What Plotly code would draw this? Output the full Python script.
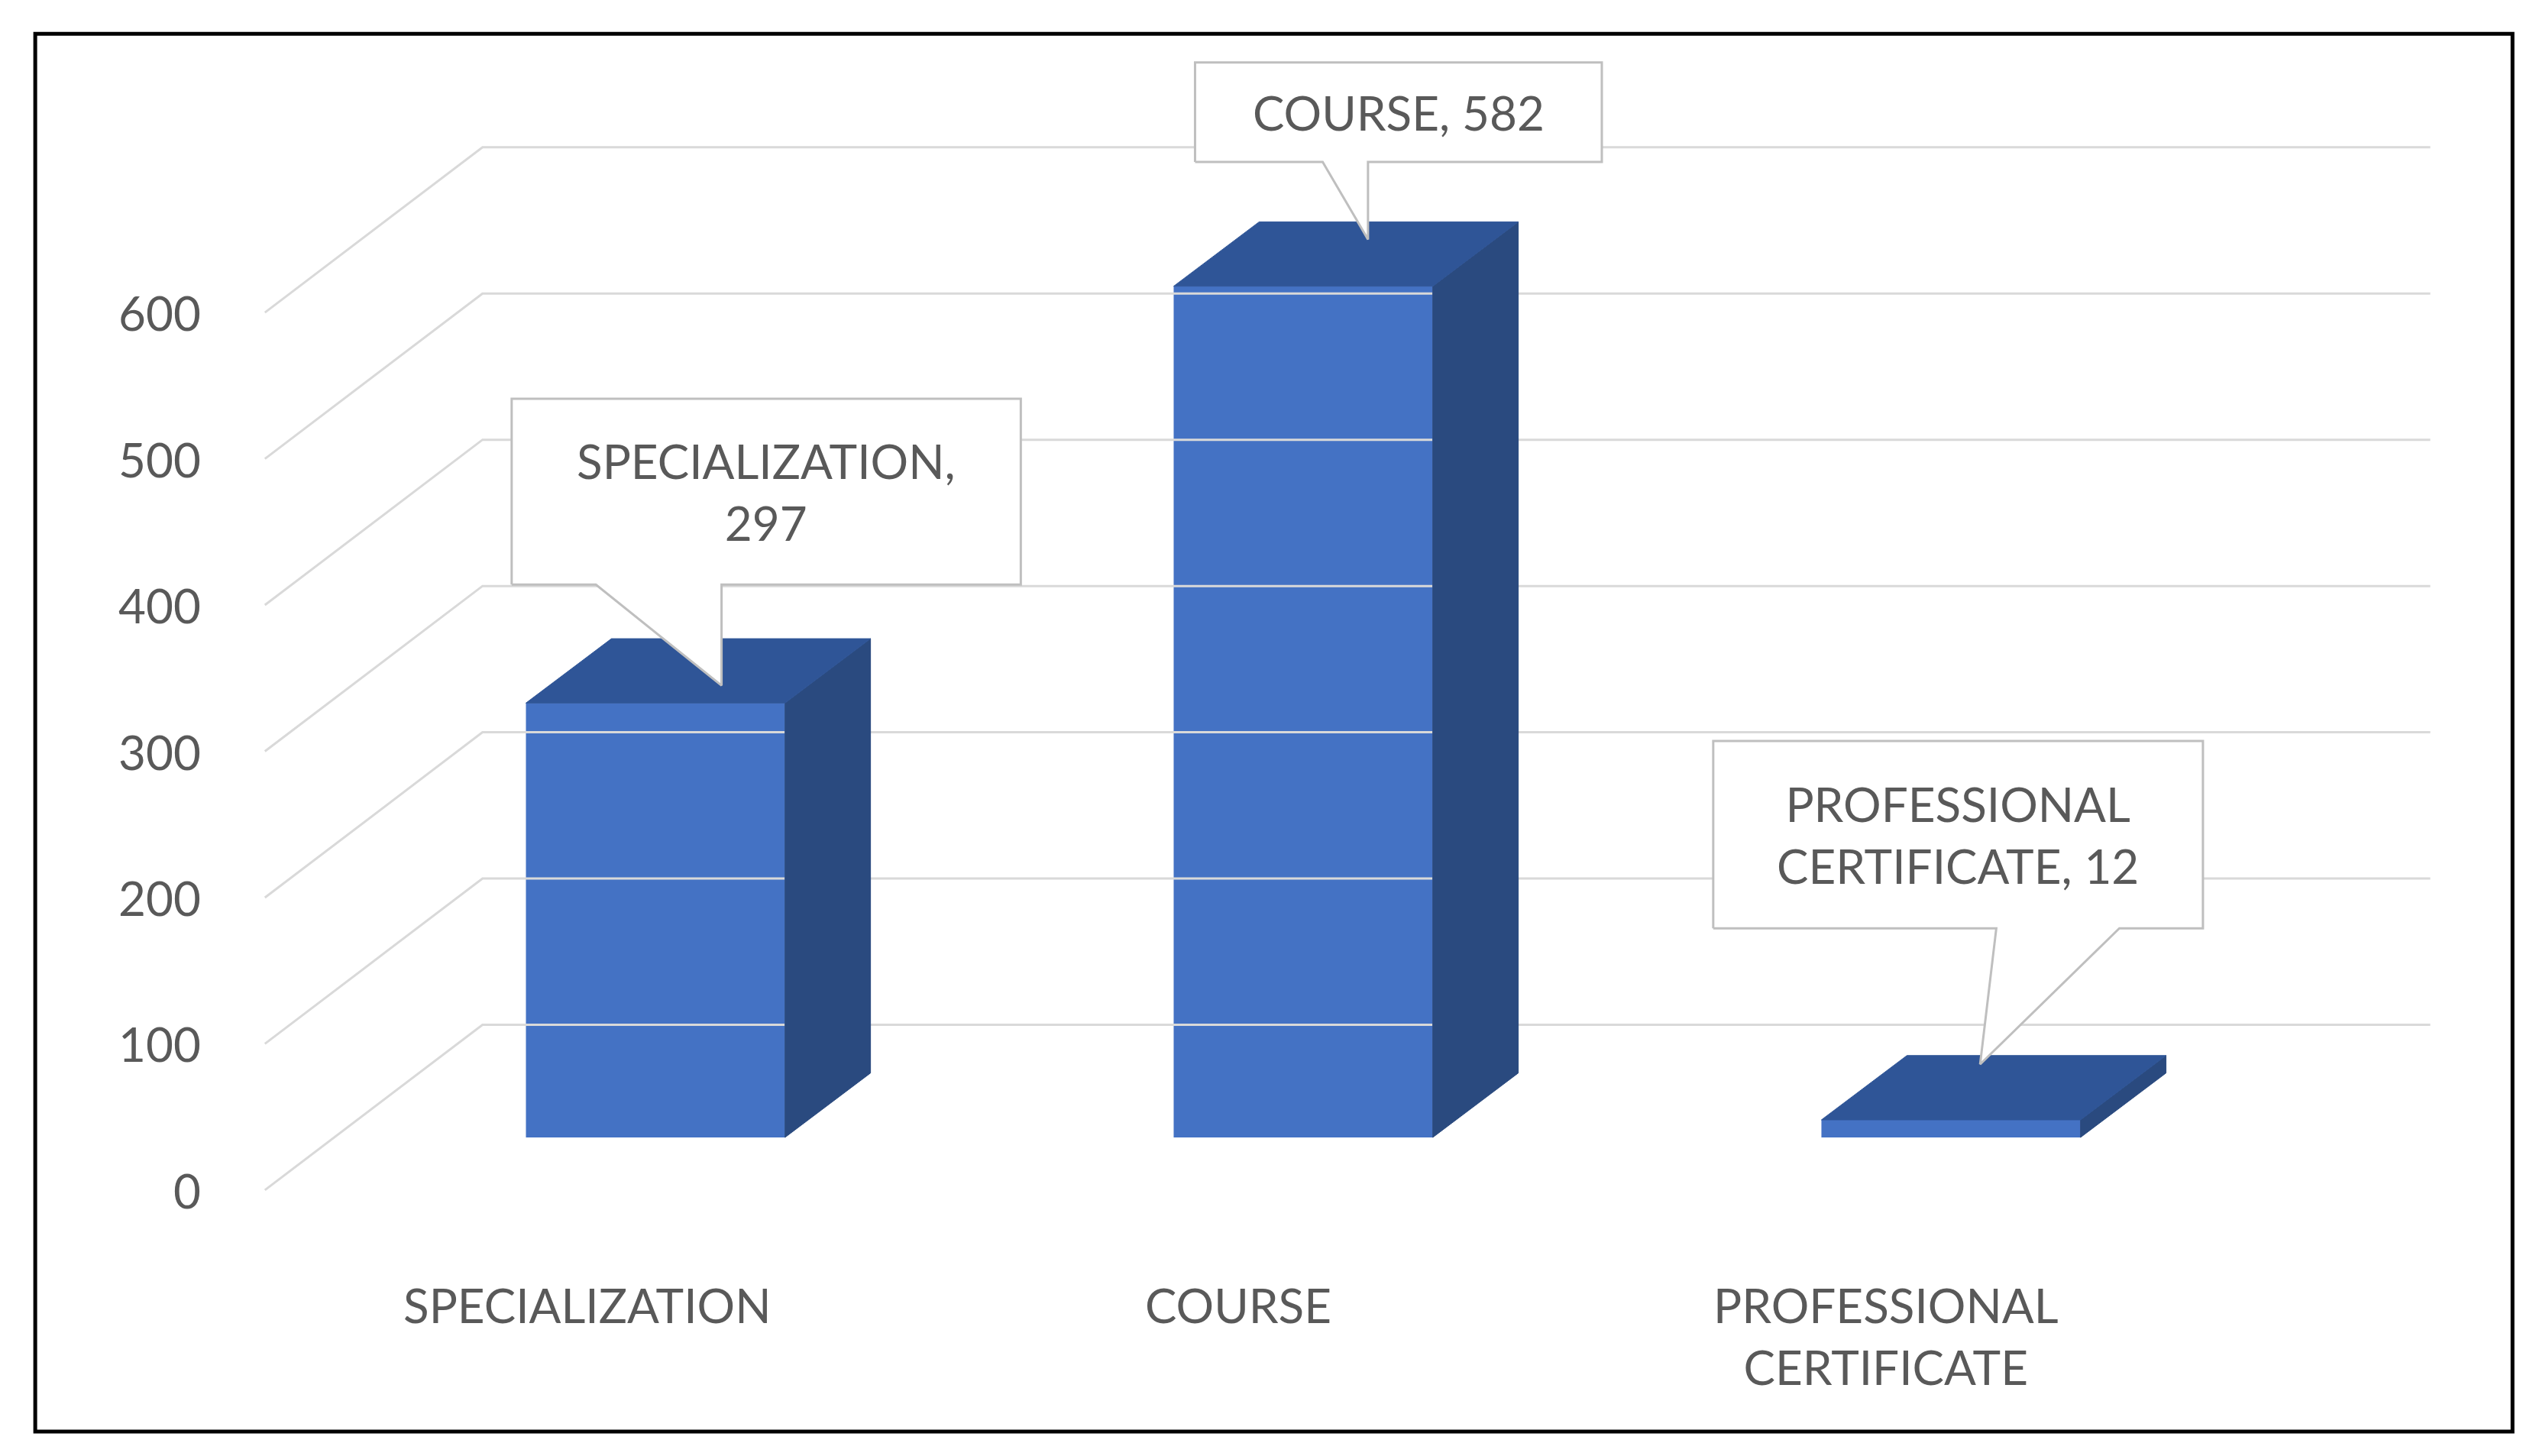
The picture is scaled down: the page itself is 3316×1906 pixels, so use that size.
import plotly.graph_objects as go

categories = ["SPECIALIZATION", "COURSE", "PROFESSIONAL CERTIFICATE"]
cat_labels = ["SPECIALIZATION", "COURSE", "PROFESSIONAL<br>CERTIFICATE"]
values = [297, 582, 12]
tick_values = [0, 100, 200, 300, 400, 500, 600]

FRONT = "#4472C4"; TOP = "#2F5597"; SIDE = "#2A4A7F"
GRID = "#D9D9D9"; TXT = "#595959"; FONT = "Lato"
hw, dx, dy = 0.2, 0.132, 44
back_off, front_off = 77, -36
xb0, xb1, xf = -0.267, 2.74, -0.603

fig = go.Figure()
# walls / gridlines
for v in tick_values:
    fig.add_trace(go.Scatter(x=[xf, xb0, xb1], y=[v + front_off, v + back_off, v + back_off],
                             mode="lines", line=dict(color=GRID, width=3), hoverinfo="skip"))
    fig.add_annotation(x=-0.70, y=v + front_off, text=str(v), showarrow=False, xanchor="right",
                       font=dict(size=62, color=TXT, family=FONT))
xs = list(range(len(values)))
fig.add_trace(go.Bar(x=xs, y=values, width=2 * hw, marker=dict(color=FRONT, line=dict(width=0)),
                     hoverinfo="skip"))
for x, v in zip(xs, values):
    fig.add_trace(go.Scatter(x=[x + hw, x + hw + dx, x + hw + dx, x + hw, x + hw],
                             y=[0, dy, v + dy, v, 0], fill="toself", fillcolor=SIDE,
                             mode="lines", line=dict(color=SIDE, width=1), hoverinfo="skip"))
    fig.add_trace(go.Scatter(x=[x - hw, x + hw, x + hw + dx, x - hw + dx, x - hw],
                             y=[v, v, v + dy, v + dy, v], fill="toself", fillcolor=TOP,
                             mode="lines", line=dict(color=TOP, width=1), hoverinfo="skip"))

for x, t in zip([-0.105, 0.9, 1.9], cat_labels):
    fig.add_annotation(x=x, y=-94, yanchor="top", text=t, showarrow=False,
                       font=dict(size=62, color=TXT, family=FONT), align="center")

# callouts: box (x0,x1,y0,y1), pointer (xa, tipx, tipy, xb)
callouts = [
    ((-0.222, 0.564, 378, 505), (-0.092, 0.102, 309, 0.102), f"{categories[0]},<br>{values[0]}"),
    ((0.833, 1.461, 667, 735), (1.03, 1.10, 614, 1.10), f"{categories[1]}, {values[1]}"),
    ((1.633, 2.389, 143, 271), (2.07, 2.045, 50, 2.26), "PROFESSIONAL<br>CERTIFICATE, " + str(values[2])),
]
for (x0, x1, y0, y1), (xa, tx, ty, xb), t in callouts:
    fig.add_trace(go.Scatter(x=[x0, xa, tx, xb, x1, x1, x0, x0], y=[y0, y0, ty, y0, y0, y1, y1, y0],
                             fill="toself", fillcolor="white", mode="lines",
                             line=dict(color="#BFBFBF", width=3), hoverinfo="skip"))
    fig.add_annotation(x=(x0 + x1) / 2, y=(y0 + y1) / 2, text=t, showarrow=False,
                       font=dict(size=62, color=TXT, family=FONT), align="center")

fig.add_shape(type="rect", xref="paper", yref="paper", x0=0.0115, x1=0.9895, y0=0.021, y1=0.981,
              line=dict(color="black", width=5))
fig.update_layout(width=3316, height=1906, autosize=False, showlegend=False,
                  margin=dict(l=0, r=0, t=0, b=0), plot_bgcolor="white", paper_bgcolor="white",
                  xaxis=dict(range=[-1.0025, 2.908], visible=False, fixedrange=True),
                  yaxis=dict(range=[-222, 773.5], visible=False, fixedrange=True))
fig.write_html("out.html")
